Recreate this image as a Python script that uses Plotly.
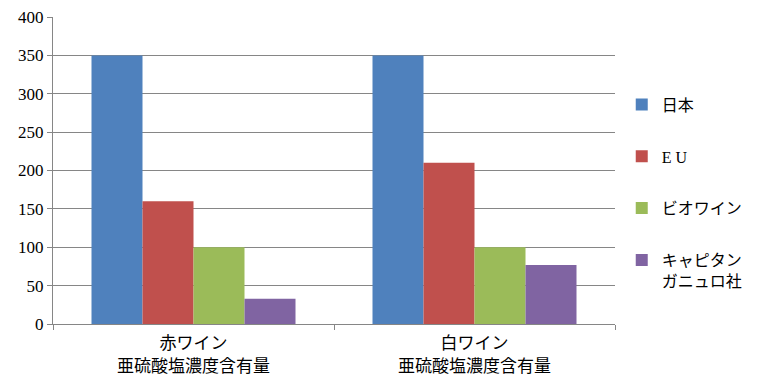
import plotly.graph_objects as go

categories = ["赤ワイン<br>亜硫酸塩濃度含有量", "白ワイン<br>亜硫酸塩濃度含有量"]
series_names = ["日本", "E U", "ビオワイン", "キャピタン<br>ガニュロ社"]
values_japan = [350, 350]
values_eu = [160, 210]
values_bio = [100, 100]
values_capitan = [33, 77]
colors = ["#4F81BD", "#C0504D", "#9BBB59", "#8064A2"]
y_ticks = [0, 50, 100, 150, 200, 250, 300, 350, 400]

FONT = "Liberation Serif, Noto Sans CJK JP, serif"

fig = go.Figure()
for name, vals, col in zip(series_names, [values_japan, values_eu, values_bio, values_capitan], colors):
    fig.add_trace(go.Bar(
        x=categories, y=vals, name=name, legendgroup=name,
        marker=dict(color=col, line=dict(width=0)),
    ))

# page body has an 8px margin, so the figure is 752x382 placed at (8, 8)
fig.update_layout(
    width=752, height=382,
    margin=dict(l=45, r=145, t=9, b=66, autoexpand=False),
    paper_bgcolor="white", plot_bgcolor="white",
    barmode="group", bargap=0.274, bargroupgap=0,
    font=dict(family=FONT, size=15, color="#000000"),
    showlegend=True,
    legend=dict(x=1.012, y=0.77, xanchor="left", yanchor="top",
                tracegroupgap=28, valign="top",
                font=dict(family=FONT, size=16), itemwidth=30),
    xaxis=dict(showline=True, linecolor="#868686", linewidth=1, automargin=False,
               ticks="outside", tickson="boundaries", ticklen=5, tickcolor="#868686",
               showgrid=False, tickfont=dict(size=17), ticklabeloverflow="allow",
               ticklabelstandoff=4),
    yaxis=dict(range=[0, 400], tickvals=y_ticks, showline=True, linecolor="#868686",
               linewidth=1, ticks="outside", ticklen=5, tickcolor="#868686", automargin=False,
               showgrid=True, gridcolor="#868686", gridwidth=1, ticklabeloverflow="allow",
               zeroline=False, tickfont=dict(family="serif", size=17)),
)

fig.write_html("out.html")
